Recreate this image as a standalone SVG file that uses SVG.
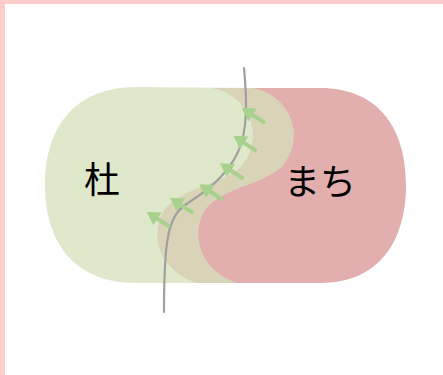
<svg xmlns="http://www.w3.org/2000/svg" width="443" height="375" viewBox="0 0 443 375">
<style>
.frame{fill:#ffcccc}
.mori{fill:#d6e0bb;fill-opacity:0.75}
.machi{fill:#e2aeae}
.lbl{font-family:"Noto Sans CJK JP","Noto Sans CJK SC",sans-serif;font-size:36px;fill:#000;text-anchor:middle}
.path{fill:none;stroke:#a0a0a0;stroke-width:2.2;stroke-linecap:round}
.arr{fill:#a9d18e}
</style>
<defs>
<polygon id="arrow" points="0,0 13,-7.5 13,-2 28,-2 28,2 13,2 13,7.5"/>
</defs>
<rect class="frame" x="0" y="0" width="443" height="4"/>
<rect class="frame" x="0" y="0" width="5" height="375"/>
<g id="machi">
<path class="machi" d="M 212 88 L 320 88 C 380 88 406 130 406 185 C 406 240 380 283 320 283 L 196 283 C 159 270 149 235 164 210 C 184 185 227 185 244 163 C 264 135 249 95 212 88 Z"/>
<text class="lbl" x="320" y="195">まち</text>
</g>
<g id="mori">
<path class="mori" d="M 137 87 L 253 88 C 290 95 305 135 285 163 C 268 185 225 185 205 210 C 190 235 200 270 237 283 L 137 283 C 72 283 45 240 45 185 C 45 130 72 87 137 87 Z"/>
<text class="lbl" x="102" y="193">杜</text>
</g>
<g id="connectors">
<path class="path" d="M 244 68 C 247 100 248 130 238 152 C 226 178 202 194 185 205 C 168 217 164 240 164 312"/>
<g class="arr">
<use href="#arrow" transform="translate(241.7,107.7) rotate(33.5)"/>
<use href="#arrow" transform="translate(233.3,135.7) rotate(33.5)"/>
<use href="#arrow" transform="translate(220,163.3) rotate(33.5)"/>
<use href="#arrow" transform="translate(199.3,184.3) rotate(33.5)"/>
<use href="#arrow" transform="translate(170,197.7) rotate(33.5)"/>
<use href="#arrow" transform="translate(146.7,211.7) rotate(33.5)"/>
</g>
</g>
</svg>
